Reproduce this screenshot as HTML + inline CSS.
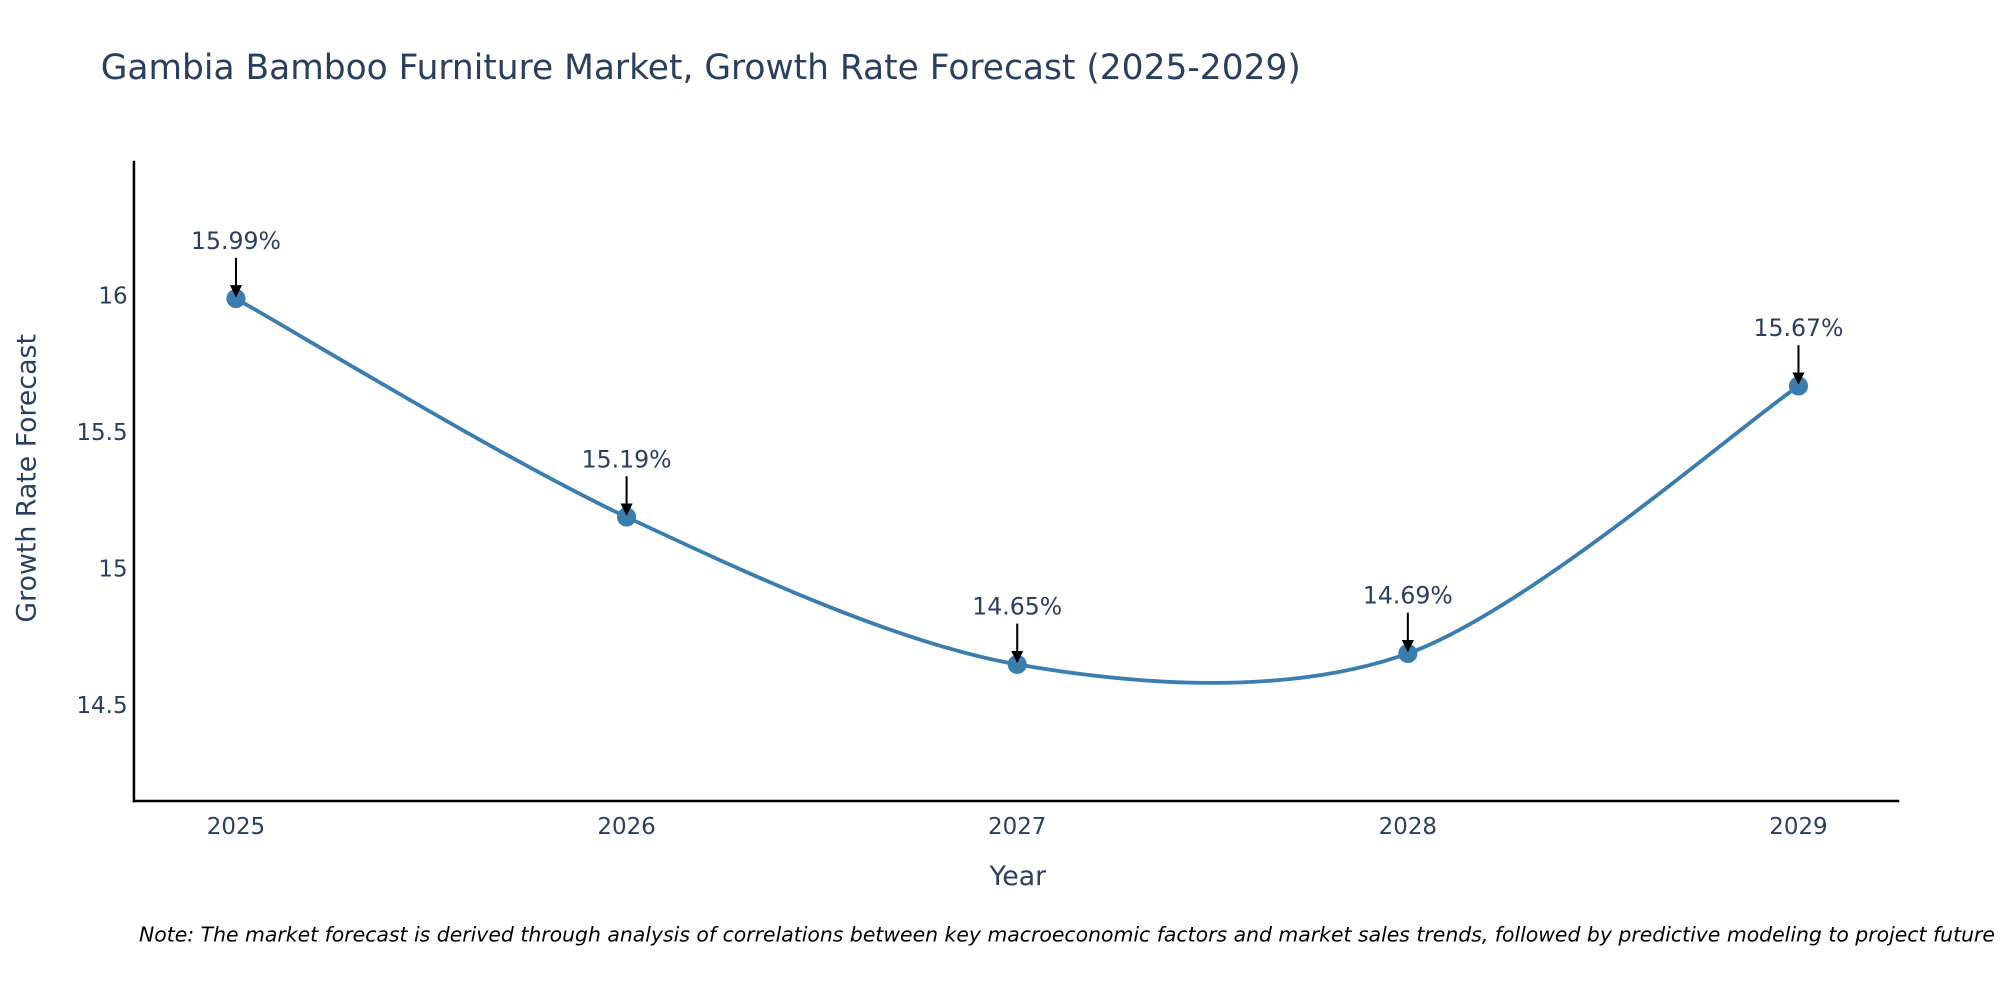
<!DOCTYPE html>
<html><head><meta charset="utf-8"><style>
html,body{margin:0;padding:0;background:#fff;width:2000px;height:1000px;overflow:hidden}
svg{display:block;font-family:"DejaVu Sans","Liberation Sans",sans-serif}
</style></head><body>
<svg id="chart" width="2000" height="1000" viewBox="0 0 1568 784" preserveAspectRatio="none" xmlns="http://www.w3.org/2000/svg">
<defs><marker id="ah" viewBox="0 0 10 10" refX="9" refY="5" markerWidth="6" markerHeight="6" orient="auto" markerUnits="strokeWidth"><path d="M0,0L10,5L0,10z" fill="#000"/></marker></defs>
<text x="79" y="62" font-size="27" fill="#2a3f5f">Gambia Bamboo Furniture Market, Growth Rate Forecast (2025-2029)</text>
<g id="plot"></g>
<line x1="105" y1="126" x2="105" y2="629" stroke="#000" stroke-width="2"/>
<line x1="104" y1="628" x2="1489" y2="628" stroke="#000" stroke-width="2"/>
<text transform="translate(28,375) rotate(-90)" text-anchor="middle" font-size="21" fill="#2a3f5f">Growth Rate Forecast</text>
<text x="798" y="694" text-anchor="middle" font-size="21" fill="#2a3f5f">Year</text>
<text x="109" y="738" font-size="16" font-style="italic" fill="#000">Note: The market forecast is derived through analysis of correlations between key macroeconomic factors and market sales trends, followed by predictive modeling to project future sales.</text>
</svg>
<script>
const years=['2025','2026','2027','2028','2029'];
const values=[15.99,15.19,14.65,14.69,15.67];
const labels=['15.99%','15.19%','14.65%','14.69%','15.67%'];
const yTicks=[14.5,15,15.5,16];
const NS='http://www.w3.org/2000/svg';
const g=document.getElementById('plot');
function xs(i){return 185+i*306.25;}
function ys(v){return 232+(16-v)*214;}
function mk(t,a){const e=document.createElementNS(NS,t);for(const k in a)e.setAttribute(k,a[k]);g.appendChild(e);return e;}
yTicks.forEach(v=>{
  const t=mk('text',{x:100,y:ys(v)+6,'text-anchor':'end','font-size':18,fill:'#2a3f5f'});
  
  
  t.textContent=v;
});
years.forEach((y,i)=>{
  const t=mk('text',{x:xs(i),y:654,'text-anchor':'middle','font-size':18,fill:'#2a3f5f'});
  
  
  t.textContent=y;
});
const P=values.map((v,i)=>[xs(i),ys(v)]);
const k=1/6.5;
let d='M'+P[0][0]+','+P[0][1];
for(let i=0;i<P.length-1;i++){
  const p0=P[Math.max(i-1,0)],p1=P[i],p2=P[i+1],p3=P[Math.min(i+2,P.length-1)];
  const c1=[p1[0]+(p2[0]-p0[0])*k,p1[1]+(p2[1]-p0[1])*k];
  const c2=[p2[0]-(p3[0]-p1[0])*k,p2[1]-(p3[1]-p1[1])*k];
  d+=' C'+c1+' '+c2+' '+p2;
}
const line=mk('path',{d:d,fill:'none',stroke:'#3a7eb0','stroke-width':3});


P.forEach((p,i)=>{
  const c=mk('circle',{cx:p[0],cy:p[1],r:7.5,fill:'#3a7eb0'});
  
  
  const a=mk('line',{x1:p[0],y1:p[1]-32,x2:p[0],y2:p[1]-2,stroke:'#000','stroke-width':1.6,'marker-end':'url(#ah)'});
  
  
  const t=mk('text',{x:p[0],y:p[1]-39,'text-anchor':'middle','font-size':18.5,fill:'#2a3f5f'});
  
  
  t.textContent=labels[i];
});
</script>
</body></html>
